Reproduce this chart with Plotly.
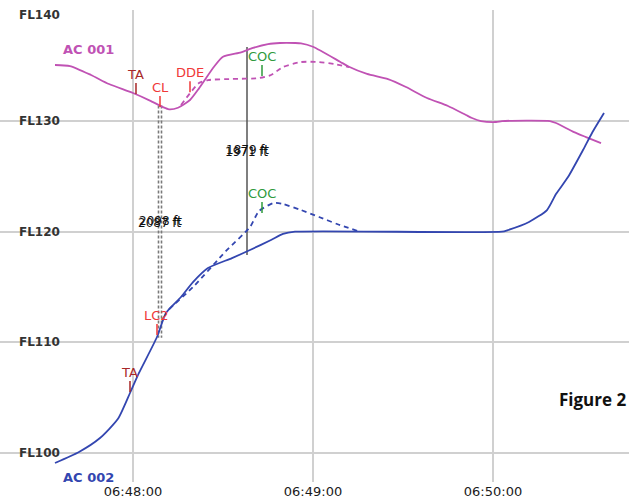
import pandas as pd
import plotly.graph_objects as go

# ---- data -------------------------------------------------------------
DAY = "2016-01-01 "

ac001_t = ["06:47:34", "06:47:39", "06:47:46", "06:47:52", "06:48:00", "06:48:06",
           "06:48:10", "06:48:12", "06:48:15", "06:48:19", "06:48:22", "06:48:27",
           "06:48:30", "06:48:36", "06:48:40", "06:48:45", "06:48:49", "06:48:54",
           "06:48:56", "06:49:00", "06:49:09", "06:49:12", "06:49:18", "06:49:25",
           "06:49:31", "06:49:38", "06:49:45", "06:49:51", "06:49:53", "06:49:56",
           "06:50:01", "06:50:03", "06:50:19", "06:50:21", "06:50:27", "06:50:31",
           "06:50:36"]
ac001_fl = [135.06, 134.97, 134.16, 133.34, 132.53, 131.80,
            131.25, 131.05, 131.20, 131.90, 132.95, 134.90,
            135.80, 136.20, 136.60, 136.95, 137.05, 137.05,
            137.02, 136.71, 135.36, 134.90, 134.25, 133.79,
            133.07, 132.08, 131.36, 130.54, 130.27, 130.00,
            129.91, 130.00, 130.00, 129.82, 129.00, 128.55,
            128.00]

ac001_plan_t = ["06:48:16", "06:48:22", "06:48:25", "06:48:33", "06:48:42", "06:48:46",
                "06:48:50", "06:48:56", "06:49:02", "06:49:07", "06:49:12"]
ac001_plan_fl = [131.45, 133.43, 133.70, 133.80, 133.88, 134.16,
                 134.88, 135.33, 135.33, 135.15, 134.88]

ac002_t = ["06:47:34", "06:47:42", "06:47:49", "06:47:55", "06:47:59", "06:48:02",
           "06:48:08", "06:48:11", "06:48:16", "06:48:20", "06:48:25", "06:48:33",
           "06:48:39", "06:48:46", "06:48:50", "06:48:54", "06:50:03", "06:50:05",
           "06:50:12", "06:50:18", "06:50:21", "06:50:25", "06:50:30", "06:50:33",
           "06:50:37"]
ac002_fl = [99.11, 100.10, 101.36, 103.10, 105.43, 107.24,
            110.49, 112.66, 114.10, 115.45, 116.72, 117.62,
            118.35, 119.25, 119.80, 120.00, 120.00, 120.15,
            120.88, 121.96, 123.40, 124.94, 127.38, 128.92,
            130.72]

ac002_plan_t = ["06:48:12", "06:48:20", "06:48:31", "06:48:39", "06:48:42", "06:48:47",
                "06:48:50", "06:48:56", "06:49:02", "06:49:08", "06:49:15"]
ac002_plan_fl = [113.00, 115.00, 118.26, 120.42, 121.87, 122.60,
                 122.50, 121.96, 121.33, 120.70, 120.06]

# trajectory events: label, time, flight level, kind
event_labels = ["TA", "CL", "DDE", "COC", "TA", "LC2", "COC"]
event_t = ["06:48:01", "06:48:09", "06:48:19", "06:48:43", "06:47:59", "06:48:08", "06:48:43"]
event_fl = [132.44, 131.26, 132.60, 134.06, 105.52, 110.67, 121.69]
event_kind = ["advisory", "clearance", "clearance", "coc", "advisory", "clearance", "coc"]

# vertical separations: time, upper level, separation values (ft)
sep_t = ["06:48:09", "06:48:38"]
sep_top_fl = [131.41, 136.69]
sep_ft = [2098, 1879]
sep_ft_alt = [2087, 1971]

fl_ticks = [100, 110, 120, 130, 140]
time_ticks = ["06:48:00", "06:49:00", "06:50:00"]
x_range = ["06:47:15.67", "06:50:45.33"]
y_range = [97.39, 140.03]


def clock(ts):
    return pd.to_datetime([DAY + t for t in ts])


def sec_shift(ts, s):
    return clock(ts) + pd.to_timedelta(s, unit="s")


# ---- styles -----------------------------------------------------------
C_AC001 = "#c052b4"
C_AC002 = "#3346b0"
KIND_COLOR = {"advisory": "#a82828", "clearance": "#f03838", "coc": "#2f9a3c"}
GRID = "#d0d0d0"
FONT = "DejaVu Sans"
LW = 1.8

fig = go.Figure()

# separation markers
sep_bottom = [top - ft / 100 for top, ft in zip(sep_top_fl, sep_ft)]
for shift in (-0.5, 0.5):
    fig.add_trace(go.Scatter(
        x=sec_shift([sep_t[0]] * 2, shift), y=[sep_top_fl[0], sep_bottom[0]],
        mode="lines", line=dict(color="#7a7a7a", width=1.6, dash="3px,2px"),
        hoverinfo="skip", showlegend=False))
fig.add_trace(go.Scatter(
    x=clock([sep_t[1]] * 2), y=[sep_top_fl[1], sep_bottom[1]],
    mode="lines", line=dict(color="#555555", width=1.5),
    hoverinfo="skip", showlegend=False))

# planned trajectories
fig.add_trace(go.Scatter(x=clock(ac001_plan_t), y=ac001_plan_fl, mode="lines",
                         line=dict(color=C_AC001, width=LW, dash="5px,4px",
                                   shape="spline", smoothing=0.6),
                         showlegend=False))
fig.add_trace(go.Scatter(x=clock(ac002_plan_t), y=ac002_plan_fl, mode="lines",
                         line=dict(color=C_AC002, width=LW, dash="5px,4px",
                                   shape="spline", smoothing=0.6),
                         showlegend=False))

# flown trajectories
fig.add_trace(go.Scatter(x=clock(ac001_t), y=ac001_fl, mode="lines",
                         line=dict(color=C_AC001, width=LW, shape="spline", smoothing=0.6),
                         showlegend=False))
fig.add_trace(go.Scatter(x=clock(ac002_t), y=ac002_fl, mode="lines",
                         line=dict(color=C_AC002, width=LW, shape="spline", smoothing=0.6),
                         showlegend=False))

annotations = []

# aircraft labels next to the start of each track
annotations.append(dict(x=clock(ac001_t[:1])[0], y=ac001_fl[0], text="<b>AC 001</b>",
                        showarrow=False, xanchor="left", xshift=6, yshift=16,
                        font=dict(family=FONT, size=13, color=C_AC001)))
annotations.append(dict(x=clock(ac002_t[:1])[0], y=ac002_fl[0], text="<b>AC 002</b>",
                        showarrow=False, xanchor="left", xshift=6, yshift=-15,
                        font=dict(family=FONT, size=13, color=C_AC002)))

# event ticks with labels
for lab, t, fl, kind in zip(event_labels, clock(event_t), event_fl, event_kind):
    col = KIND_COLOR[kind]
    annotations.append(dict(x=t, y=fl, text=lab, showarrow=True, arrowhead=0,
                            arrowwidth=1.5, arrowcolor=col, ax=0, ay=-20,
                            standoff=0, font=dict(family=FONT, size=13, color=col)))

# separation values (two overlapping readouts)
for t, top, bot, a, b in zip(clock(sep_t), sep_top_fl, sep_bottom, sep_ft, sep_ft_alt):
    mid = (top + bot) / 2
    annotations.append(dict(x=t, y=mid, text=f"{a} ft", showarrow=False, yshift=1,
                            font=dict(family=FONT, size=12, color="#111111")))
    annotations.append(dict(x=t, y=mid, text=f"{b} ft", showarrow=False, yshift=-1,
                            xshift=-1, font=dict(family=FONT, size=12, color="#111111")))

# flight level labels
for fl in fl_ticks:
    annotations.append(dict(x=0.098, xref="paper", y=fl, yref="y", text=f"<b>FL{fl}</b>",
                            showarrow=False, xanchor="right",
                            yshift=-5 if fl == max(fl_ticks) else 0,
                            font=dict(family=FONT, size=12, color="#333333")))

annotations.append(dict(x=0.998, xref="paper", y=0.174, yref="paper", text="<b>Figure 2</b>",
                        showarrow=False, xanchor="right", yanchor="middle",
                        font=dict(family="Open Sans", size=17, color="#111111")))

fig.update_layout(
    width=629, height=498,
    margin=dict(l=0, r=0, t=10, b=16),
    paper_bgcolor="white", plot_bgcolor="white",
    showlegend=False,
    annotations=annotations,
    shapes=[dict(type="rect", xref="paper", yref="paper", x0=0, x1=0.099, y0=0, y1=1,
                 fillcolor="white", line=dict(width=0), layer="between")],
    xaxis=dict(type="date", range=[DAY + x_range[0], DAY + x_range[1]],
               tickvals=clock(time_ticks), ticktext=time_ticks,
               showgrid=True, gridcolor=GRID, gridwidth=2, zeroline=False,
               showline=False, ticks="",
               tickfont=dict(family=FONT, size=13, color="#1a1a1a")),
    yaxis=dict(range=y_range, tickvals=fl_ticks[:-1], showticklabels=False,
               showgrid=True, gridcolor=GRID, gridwidth=2, zeroline=False,
               showline=False, ticks=""),
)

fig.write_html("out.html")
